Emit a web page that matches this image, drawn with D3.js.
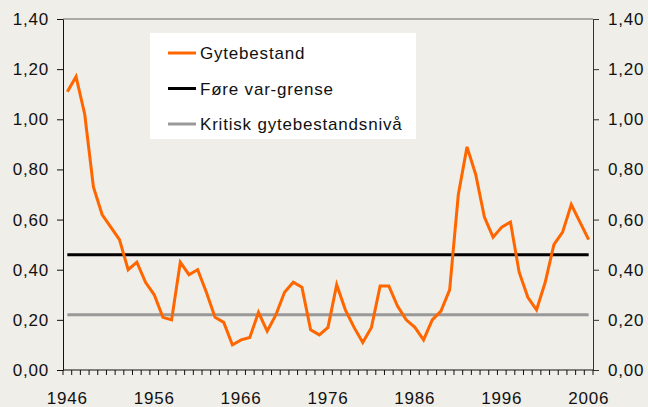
<!DOCTYPE html>
<html>
<head>
<meta charset="utf-8">
<script src="https://cdn.jsdelivr.net/npm/d3@7"></script>
<style>
  body { margin: 0; background: #efeee8; }
  svg { display: block; font-family: "Liberation Sans", Arial, sans-serif; }
  text { letter-spacing: 0.8px; }
</style>
</head>
<body>
<div id="chart"></div>
<script>
const years = d3.range(1946, 2007);
const gytebestand = [
  1.11, 1.17, 1.02, 0.73, 0.62, 0.57, 0.52, 0.40, 0.43, 0.35,
  0.30, 0.21, 0.20, 0.43, 0.38, 0.40, 0.31, 0.21, 0.19, 0.10,
  0.12, 0.13, 0.23, 0.155, 0.22, 0.31, 0.35, 0.33, 0.16, 0.14,
  0.17, 0.34, 0.24, 0.17, 0.11, 0.17, 0.335, 0.335, 0.255, 0.20,
  0.17, 0.12, 0.20, 0.235, 0.32, 0.70, 0.89, 0.78, 0.61, 0.53,
  0.57, 0.59, 0.39, 0.29, 0.24, 0.35, 0.50, 0.55, 0.66, 0.59, 0.52
];
const foreVarGrense = 0.46;
const kritiskNiva = 0.22;
const yTicks = [0, 0.2, 0.4, 0.6, 0.8, 1.0, 1.2, 1.4];
const xLabels = [1946, 1956, 1966, 1976, 1986, 1996, 2006];
const legendItems = [
  { name: 'Gytebestand', color: '#ff6600' },
  { name: 'Føre var-grense', color: '#000000' },
  { name: 'Kritisk gytebestandsnivå', color: '#999999' }
];

const width = 648, height = 407;
const pLeft = 63, pRight = 593, pTop = 19, pBottom = 370;
const fs = 17;

const svg = d3.select('#chart').append('svg')
  .attr('width', width)
  .attr('height', height);

const x = d3.scaleBand().domain(years).range([pLeft, pRight]);
const y = d3.scaleLinear().domain([0, 1.4]).range([pBottom, pTop]);
const cx = d => x(d) + x.bandwidth() / 2;
const fmt = v => d3.format('.2f')(v).replace('.', ',');

// frame top
svg.append('line')
  .attr('x1', pLeft).attr('x2', pRight)
  .attr('y1', pTop).attr('y2', pTop)
  .attr('stroke', '#666').attr('stroke-width', 1);

// left axis
const yl = svg.append('g').attr('transform', `translate(${pLeft},0)`)
  .call(d3.axisLeft(y).tickValues(yTicks).tickFormat(fmt).tickSize(6).tickSizeOuter(0));
yl.select('.domain').attr('stroke', '#111');
yl.selectAll('.tick line').attr('stroke', '#111');
yl.selectAll('text').attr('font-size', fs).attr('fill', '#111').attr('x', -14);

// right axis
const yr = svg.append('g').attr('transform', `translate(${pRight},0)`)
  .call(d3.axisRight(y).tickValues(yTicks).tickFormat(fmt).tickSize(6).tickSizeOuter(0));
yr.select('.domain').attr('stroke', '#333');
yr.selectAll('.tick line').attr('stroke', '#333');
yr.selectAll('text').attr('font-size', fs).attr('fill', '#111').attr('x', 15);

// bottom axis: ticks at band edges, labels every ten years
const xa = svg.append('g').attr('transform', `translate(0,${pBottom})`);
xa.append('line').attr('x1', pLeft).attr('x2', pRight).attr('stroke', '#111');
xa.selectAll('line.tk').data(years.concat([null])).join('line')
  .attr('class', 'tk')
  .attr('x1', (d, i) => pLeft + i * x.step())
  .attr('x2', (d, i) => pLeft + i * x.step())
  .attr('y1', 0).attr('y2', 5)
  .attr('stroke', '#111');
xa.selectAll('text').data(xLabels).join('text')
  .attr('x', d => cx(d))
  .attr('y', 34)
  .attr('text-anchor', 'middle')
  .attr('font-size', fs)
  .attr('fill', '#111')
  .text(d => d);

// reference lines
svg.append('line')
  .attr('x1', cx(years[0])).attr('x2', cx(years[years.length - 1]))
  .attr('y1', y(kritiskNiva)).attr('y2', y(kritiskNiva))
  .attr('stroke', legendItems[2].color).attr('stroke-width', 3);
svg.append('line')
  .attr('x1', cx(years[0])).attr('x2', cx(years[years.length - 1]))
  .attr('y1', y(foreVarGrense)).attr('y2', y(foreVarGrense))
  .attr('stroke', legendItems[1].color).attr('stroke-width', 3);

// spawning stock line
const line = d3.line().x((d, i) => cx(years[i])).y(d => y(d));
svg.append('path')
  .datum(gytebestand)
  .attr('d', line)
  .attr('fill', 'none')
  .attr('stroke', legendItems[0].color)
  .attr('stroke-width', 3)
  .attr('stroke-linejoin', 'miter');

// legend
const lg = svg.append('g');
lg.append('rect')
  .attr('x', 150).attr('y', 33)
  .attr('width', 266).attr('height', 106)
  .attr('fill', '#ffffff');
legendItems.forEach((item, i) => {
  const ly = 53 + i * 35.5;
  lg.append('line')
    .attr('x1', 168).attr('x2', 196)
    .attr('y1', ly).attr('y2', ly)
    .attr('stroke', item.color).attr('stroke-width', 3);
  lg.append('text')
    .attr('x', 200).attr('y', ly + 6)
    .attr('font-size', fs)
    .attr('fill', '#111')
    .text(item.name);
});
</script>
</body>
</html>
